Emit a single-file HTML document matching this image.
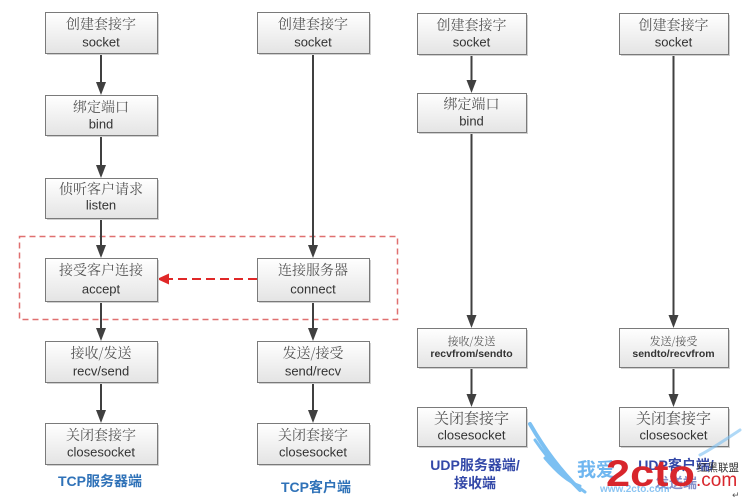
<!DOCTYPE html>
<html><head><meta charset="utf-8">
<style>
html,body{margin:0;padding:0;background:#fff;}
svg{display:block;}
.cn{font-family:"Noto Serif CJK SC","Liberation Serif",serif;font-size:14px;fill:#555;}
.en{font-family:"Liberation Sans","Noto Sans CJK SC",sans-serif;font-size:13px;fill:#333;}
.lbl{font-family:"Liberation Sans","Noto Sans CJK SC",sans-serif;font-size:14px;font-weight:bold;fill:#2f72b8;}
.ulbl{font-family:"Liberation Sans","Noto Sans CJK SC",sans-serif;font-size:14px;font-weight:bold;fill:#3348a8;}
</style></head>
<body>
<svg width="744" height="499" viewBox="0 0 744 499" xmlns="http://www.w3.org/2000/svg">
<defs>
<linearGradient id="g" x1="0" y1="0" x2="0" y2="1">
<stop offset="0" stop-color="#ffffff"/>
<stop offset="1" stop-color="#e4e4e4"/>
</linearGradient>
</defs>
<rect width="744" height="499" fill="#fff"/>

<!-- dashed region -->
<rect x="19.5" y="236.5" width="378" height="83" fill="none" stroke="#e07070" stroke-width="1.5" stroke-dasharray="6 4"/>

<!-- connector lines -->
<g stroke="#404040" stroke-width="2" fill="none">
<line x1="101" y1="53" x2="101" y2="86"/>
<line x1="101" y1="135" x2="101" y2="169"/>
<line x1="101" y1="218" x2="101" y2="249"/>
<line x1="101" y1="301" x2="101" y2="332"/>
<line x1="101" y1="382" x2="101" y2="414"/>
<line x1="313" y1="53" x2="313" y2="249"/>
<line x1="313" y1="301" x2="313" y2="332"/>
<line x1="313" y1="382" x2="313" y2="414"/>
<line x1="471.5" y1="54" x2="471.5" y2="84"/>
<line x1="471.5" y1="132" x2="471.5" y2="319"/>
<line x1="471.5" y1="367" x2="471.5" y2="398"/>
<line x1="673.5" y1="54" x2="673.5" y2="319"/>
<line x1="673.5" y1="367" x2="673.5" y2="398"/>
</g>
<g fill="#404040">
<polygon points="101,95 96,82 106,82"/>
<polygon points="101,178 96,165 106,165"/>
<polygon points="101,258 96,245 106,245"/>
<polygon points="101,341 96,328 106,328"/>
<polygon points="101,423 96,410 106,410"/>
<polygon points="313,258 308,245 318,245"/>
<polygon points="313,341 308,328 318,328"/>
<polygon points="313,423 308,410 318,410"/>
<polygon points="471.5,93 466.5,80 476.5,80"/>
<polygon points="471.5,328 466.5,315 476.5,315"/>
<polygon points="471.5,407 466.5,394 476.5,394"/>
<polygon points="673.5,328 668.5,315 678.5,315"/>
<polygon points="673.5,407 668.5,394 678.5,394"/>
</g>

<!-- red dashed arrow -->
<line x1="257" y1="279" x2="166" y2="279" stroke="#e02828" stroke-width="2" stroke-dasharray="9 5"/>
<polygon points="157,279 169,273.5 169,284.5" fill="#e02828"/>

<!-- box shadows -->
<g fill="#d0d0d0">
<rect x="47" y="14" width="112" height="41"/>
<rect x="47" y="97" width="112" height="40"/>
<rect x="47" y="180" width="112" height="40"/>
<rect x="47" y="260" width="112" height="43"/>
<rect x="47" y="343" width="112" height="41"/>
<rect x="47" y="425" width="112" height="41"/>
<rect x="259" y="14" width="112" height="41"/>
<rect x="259" y="260" width="112" height="43"/>
<rect x="259" y="343" width="112" height="41"/>
<rect x="259" y="425" width="112" height="41"/>
<rect x="419" y="15" width="109" height="41"/>
<rect x="419" y="95" width="109" height="39"/>
<rect x="419" y="330" width="109" height="39"/>
<rect x="419" y="409" width="109" height="39"/>
<rect x="621" y="15" width="109" height="41"/>
<rect x="621" y="330" width="109" height="39"/>
<rect x="621" y="409" width="109" height="39"/>
</g>

<!-- boxes -->
<g fill="url(#g)" stroke="#7a7a7a" stroke-width="1">
<rect x="45.5" y="12.5" width="112" height="41"/>
<rect x="45.5" y="95.5" width="112" height="40"/>
<rect x="45.5" y="178.5" width="112" height="40"/>
<rect x="45.5" y="258.5" width="112" height="43"/>
<rect x="45.5" y="341.5" width="112" height="41"/>
<rect x="45.5" y="423.5" width="112" height="41"/>
<rect x="257.5" y="12.5" width="112" height="41"/>
<rect x="257.5" y="258.5" width="112" height="43"/>
<rect x="257.5" y="341.5" width="112" height="41"/>
<rect x="257.5" y="423.5" width="112" height="41"/>
<rect x="417.5" y="13.5" width="109" height="41"/>
<rect x="417.5" y="93.5" width="109" height="39"/>
<rect x="417.5" y="328.5" width="109" height="39"/>
<rect x="417.5" y="407.5" width="109" height="39"/>
<rect x="619.5" y="13.5" width="109" height="41"/>
<rect x="619.5" y="328.5" width="109" height="39"/>
<rect x="619.5" y="407.5" width="109" height="39"/>
</g>

<!-- box text -->
<g text-anchor="middle" dominant-baseline="central">
<text class="cn" x="101" y="24">创建套接字</text><text class="en" x="101" y="42">socket</text>
<text class="cn" x="101" y="107">绑定端口</text><text class="en" x="101" y="124">bind</text>
<text class="cn" x="101" y="189">侦听客户请求</text><text class="en" x="101" y="205">listen</text>
<text class="cn" x="101" y="270">接受客户连接</text><text class="en" x="101" y="289">accept</text>
<text class="cn" x="101" y="353">接收/发送</text><text class="en" x="101" y="371">recv/send</text>
<text class="cn" x="101" y="435">关闭套接字</text><text class="en" x="101" y="452">closesocket</text>

<text class="cn" x="313" y="24">创建套接字</text><text class="en" x="313" y="42">socket</text>
<text class="cn" x="313" y="270">连接服务器</text><text class="en" x="313" y="289">connect</text>
<text class="cn" x="313" y="353">发送/接受</text><text class="en" x="313" y="371">send/recv</text>
<text class="cn" x="313" y="435">关闭套接字</text><text class="en" x="313" y="452">closesocket</text>

<text class="cn" x="471.5" y="25">创建套接字</text><text class="en" x="471.5" y="42">socket</text>
<text class="cn" x="471.5" y="104">绑定端口</text><text class="en" x="471.5" y="121">bind</text>
<text class="cn" x="471.5" y="341" style="font-size:11px">接收/发送</text><text class="en" x="471.5" y="354" style="font-size:10.5px;font-weight:bold">recvfrom/sendto</text>
<text class="cn" x="471.5" y="418" style="font-size:15px">关闭套接字</text><text class="en" x="471.5" y="435">closesocket</text>

<text class="cn" x="673.5" y="25">创建套接字</text><text class="en" x="673.5" y="42">socket</text>
<text class="cn" x="673.5" y="341" style="font-size:11px">发送/接受</text><text class="en" x="673.5" y="354" style="font-size:10.5px;font-weight:bold">sendto/recvfrom</text>
<text class="cn" x="673.5" y="418" style="font-size:15px">关闭套接字</text><text class="en" x="673.5" y="435">closesocket</text>

<text class="lbl" x="100" y="481">TCP服务器端</text>
<text class="lbl" x="316" y="487">TCP客户端</text>
<text class="ulbl" x="475" y="465">UDP服务器端/</text>
<text class="ulbl" x="475" y="483">接收端</text>
<text class="ulbl" x="676" y="465">UDP客户端/</text>
<text class="ulbl" x="676" y="483" style="opacity:0.6">发送端</text>
</g>

<!-- watermark -->
<g fill="none" stroke="#7cc0f2" stroke-linecap="round">
<path d="M530,424 C545,450 560,470 580,490" stroke-width="4"/>
<path d="M535,440 C550,462 565,478 585,492" stroke-width="3"/>
<path d="M545,458 C557,472 568,482 580,486" stroke-width="3"/>
<path d="M700,455 C710,450 725,440 740,430" stroke-width="3" opacity="0.6"/>
</g>
<text x="577" y="476" font-family="'Noto Sans CJK SC',sans-serif" font-size="19" font-weight="bold" fill="#6fb6f0">我爱</text>
<text x="600" y="492" font-family="'Liberation Sans',sans-serif" font-size="10" font-weight="bold" fill="#6fb6f0" opacity="0.8">www.2cto.com</text>
<text x="606" y="486" font-family="'Liberation Sans',sans-serif" font-size="37" font-weight="bold" fill="#d8262c" textLength="89" lengthAdjust="spacingAndGlyphs">2cto</text>
<text x="696" y="486" font-family="'Liberation Sans',sans-serif" font-size="19" fill="#d8262c">.com</text>
<text x="697" y="471" font-family="'Noto Sans CJK SC',sans-serif" font-size="10.5" fill="#333">红黑联盟</text>
<text x="732" y="498" font-family="'DejaVu Sans',sans-serif" font-size="9" fill="#555">↵</text>
</svg>
</body></html>
